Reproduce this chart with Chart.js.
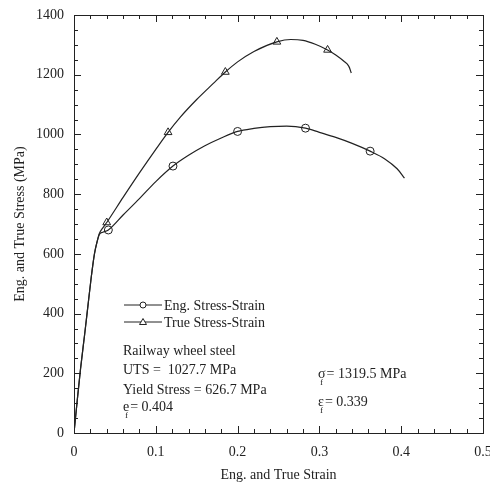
<!DOCTYPE html>
<html>
<head>
<meta charset="utf-8">
<script src="https://cdn.jsdelivr.net/npm/chart.js@4"></script>
<style>
  html, body { margin: 0; padding: 0; background: #fff; }
  #wrap { width: 490px; height: 488px; }
</style>
</head>
<body>
<div id="wrap"><canvas id="chart" width="490" height="488"></canvas></div>
<script>
// engineering curve
const engStrain = [0, 0.004, 0.008, 0.013, 0.017, 0.021, 0.025, 0.028, 0.031, 0.036, 0.042, 0.06, 0.08, 0.1, 0.121, 0.14, 0.16, 0.18, 0.2, 0.22, 0.24, 0.26, 0.283, 0.30, 0.32, 0.34, 0.362, 0.38, 0.395, 0.404];
const engStress = [0, 110, 215, 330, 425, 520, 600, 638, 665, 673, 680, 730, 785, 842, 894, 930, 962, 988, 1010, 1020, 1026, 1028, 1021, 1007, 990, 970, 944, 918, 885, 854];
// true curve
const trueStrain = [0, 0.004, 0.008, 0.013, 0.017, 0.021, 0.025, 0.028, 0.031, 0.035, 0.040, 0.06, 0.08, 0.1, 0.115, 0.13, 0.15, 0.17, 0.185, 0.20, 0.22, 0.248, 0.265, 0.28, 0.295, 0.31, 0.32, 0.33, 0.336, 0.339];
const trueStress = [0, 110, 215, 330, 425, 520, 600, 638, 668, 686, 705, 789, 871, 950, 1007, 1058, 1117, 1170, 1209, 1243, 1278, 1310, 1318, 1315, 1302, 1283, 1266, 1245, 1228, 1206];

const engMarkStrain = [0.042, 0.121, 0.2, 0.283, 0.362];
const engMarkStress = [680, 894, 1010, 1021, 944];
const trueMarkStrain = [0.040, 0.115, 0.185, 0.248, 0.310];
const trueMarkStress = [705, 1007, 1209, 1310, 1283];

const xTicks = [0, 0.1, 0.2, 0.3, 0.4, 0.5];
const yTicks = [0, 200, 400, 600, 800, 1000, 1200, 1400];

const FONT = '"Liberation Serif", "DejaVu Serif", serif';
const INK = '#222';

const pts = (xs, ys) => xs.map((x, i) => ({ x, y: ys[i] }));

const noPad = (s) => { s.paddingLeft = 0; s.paddingRight = 0; s.paddingTop = 0; s.paddingBottom = 0; };

// inward ticks on all four sides + legend + notes
const decor = {
  id: 'decor',
  afterDraw(chart) {
    const { ctx, chartArea: a, scales: { x, y } } = chart;
    ctx.save();
    ctx.strokeStyle = INK;
    ctx.lineWidth = 1;
    ctx.beginPath();
    for (let i = 0; i <= 25; i++) {
      const px = Math.round(x.getPixelForValue(i * 0.02)) + 0.5;
      const len = i % 5 === 0 ? 7 : 4;
      ctx.moveTo(px, a.bottom); ctx.lineTo(px, a.bottom - len);
      ctx.moveTo(px, a.top); ctx.lineTo(px, a.top + len);
    }
    for (let i = 0; i <= 28; i++) {
      const py = Math.round(y.getPixelForValue(i * 50)) + 0.5;
      const len = i % 4 === 0 ? 7 : 4;
      ctx.moveTo(a.left, py); ctx.lineTo(a.left + len, py);
      ctx.moveTo(a.right, py); ctx.lineTo(a.right - len, py);
    }
    ctx.stroke();
    ctx.strokeRect(a.left + 0.5, a.top + 0.5, a.right - a.left, a.bottom - a.top);

    // legend
    ctx.fillStyle = INK;
    ctx.font = '14px ' + FONT;
    ctx.textBaseline = 'middle';
    const lx = a.left + 50, rows = [305, 322];
    rows.forEach((ry, k) => {
      ctx.beginPath();
      ctx.moveTo(lx, ry); ctx.lineTo(lx + 38, ry);
      ctx.stroke();
      ctx.beginPath();
      if (k === 0) {
        ctx.arc(lx + 19, ry, 3, 0, Math.PI * 2);
      } else {
        ctx.moveTo(lx + 19, ry - 3.5); ctx.lineTo(lx + 22.5, ry + 2.5); ctx.lineTo(lx + 15.5, ry + 2.5); ctx.closePath();
      }
      ctx.fillStyle = '#fff'; ctx.fill(); ctx.stroke();
      ctx.fillStyle = INK;
      ctx.fillText(k === 0 ? 'Eng. Stress-Strain' : 'True Stress-Strain', lx + 40, ry + 1);
    });

    // notes
    const nx = a.left + 49;
    ctx.fillText('Railway wheel steel', nx, 351);
    ctx.fillText('UTS =  1027.7 MPa', nx, 370);
    ctx.fillText('Yield Stress = 626.7 MPa', nx, 390);
    const sub = (sym, rest, sx, sy) => {
      ctx.font = '14px ' + FONT;
      ctx.fillText(sym, sx, sy);
      const w = ctx.measureText(sym).width;
      ctx.font = '9px ' + FONT;
      ctx.fillText('f', sx + 2, sy + 9);
      ctx.font = '14px ' + FONT;
      ctx.fillText(rest, sx + w + 1, sy);
    };
    sub('e', '= 0.404', nx, 407);
    sub('σ', '= 1319.5 MPa', 318, 374);
    sub('ε', '= 0.339', 318, 402);
    ctx.restore();
  }
};

new Chart(document.getElementById('chart'), {
  type: 'scatter',
  data: {
    datasets: [
      { data: pts(engStrain, engStress), showLine: true, borderColor: INK, borderWidth: 1.2, pointRadius: 0, cubicInterpolationMode: 'monotone' },
      { data: pts(trueStrain, trueStress), showLine: true, borderColor: INK, borderWidth: 1.2, pointRadius: 0, cubicInterpolationMode: 'monotone' },
      { data: pts(engMarkStrain, engMarkStress), showLine: false, pointStyle: 'circle', pointRadius: 4, borderColor: INK, borderWidth: 1, backgroundColor: 'rgba(255,255,255,0)' },
      { data: pts(trueMarkStrain, trueMarkStress), showLine: false, pointStyle: 'triangle', pointRadius: 4.5, borderColor: INK, borderWidth: 1, backgroundColor: 'rgba(255,255,255,0)' },
    ],
  },
  options: {
    responsive: false,
    animation: false,
    layout: { padding: { top: 15, right: 7, left: 0, bottom: 0 } },
    plugins: { legend: { display: false }, tooltip: { enabled: false } },
    scales: {
      x: {
        type: 'linear', min: 0, max: 0.5,
        afterBuildTicks: (s) => { s.ticks = xTicks.map((v) => ({ value: v })); },
        afterFit: (s) => { s.height = 55; noPad(s); },
        grid: { display: false, drawTicks: false },
        border: { display: true, color: INK, width: 1 },
        ticks: { color: INK, font: { family: FONT, size: 14 }, padding: 11, callback: (v) => (v === 0 ? '0' : v.toFixed(1)) },
        title: { display: true, text: 'Eng. and True Strain', color: INK, font: { family: FONT, size: 14 }, padding: { top: 4 } },
      },
      y: {
        type: 'linear', min: 0, max: 1400,
        afterBuildTicks: (s) => { s.ticks = yTicks.map((v) => ({ value: v })); },
        afterFit: (s) => { s.width = 74; noPad(s); },
        grid: { display: false, drawTicks: false },
        border: { display: true, color: INK, width: 1 },
        ticks: { color: INK, font: { family: FONT, size: 14 }, padding: 10, callback: (v) => String(v) },
        title: { display: true, text: 'Eng. and True Stress (MPa)', color: INK, font: { family: FONT, size: 14 }, padding: { top: 12, bottom: 0 } },
      },
    },
  },
  plugins: [decor],
});
</script>
</body>
</html>
